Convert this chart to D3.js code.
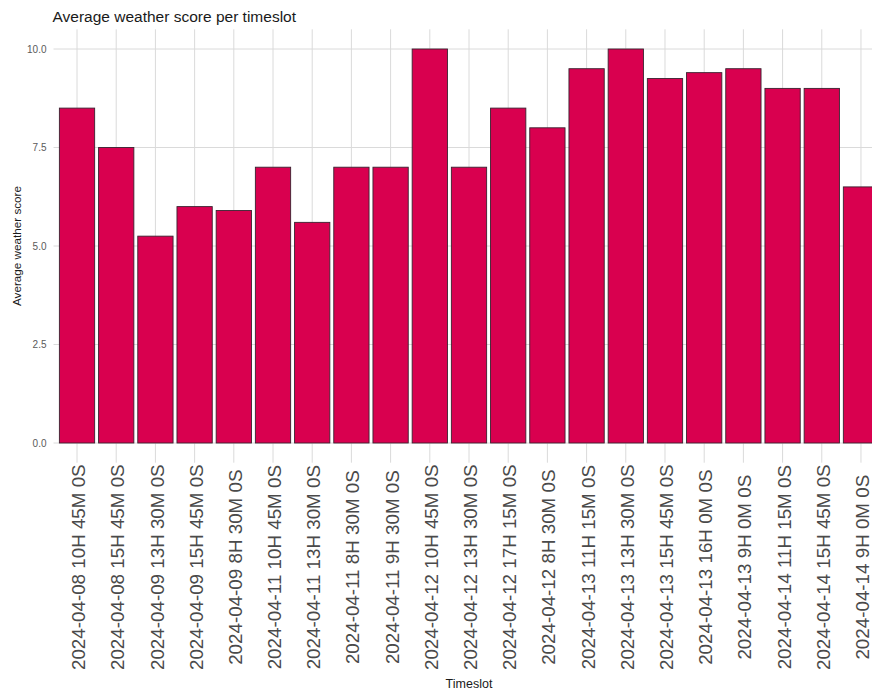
<!DOCTYPE html>
<html>
<head>
<meta charset="utf-8">
<script src="https://cdn.jsdelivr.net/npm/d3@7"></script>
<style>
  html, body { margin: 0; padding: 0; background: #ffffff; }
  svg { display: block; font-family: "Liberation Sans", Arial, sans-serif; }
</style>
</head>
<body>
<svg id="chart" width="872" height="690"></svg>
<script>
// Timeslots (category axis) and the average score for each
const timeslots = [
  "2024-04-08 10H 45M 0S",
  "2024-04-08 15H 45M 0S",
  "2024-04-09 13H 30M 0S",
  "2024-04-09 15H 45M 0S",
  "2024-04-09 8H 30M 0S",
  "2024-04-11 10H 45M 0S",
  "2024-04-11 13H 30M 0S",
  "2024-04-11 8H 30M 0S",
  "2024-04-11 9H 30M 0S",
  "2024-04-12 10H 45M 0S",
  "2024-04-12 13H 30M 0S",
  "2024-04-12 17H 15M 0S",
  "2024-04-12 8H 30M 0S",
  "2024-04-13 11H 15M 0S",
  "2024-04-13 13H 30M 0S",
  "2024-04-13 15H 45M 0S",
  "2024-04-13 16H 0M 0S",
  "2024-04-13 9H 0M 0S",
  "2024-04-14 11H 15M 0S",
  "2024-04-14 15H 45M 0S",
  "2024-04-14 9H 0M 0S"
];
const scores = [8.5, 7.5, 5.25, 6.0, 5.9, 7.0, 5.6, 7.0, 7.0, 10.0, 7.0, 8.5, 8.0, 9.5, 10.0, 9.25, 9.4, 9.5, 9.0, 9.0, 6.5];
const yTicks = [0, 2.5, 5, 7.5, 10];

const titleText = "Average weather score per timeslot";
const xTitle = "Timeslot";
const yTitle = "Average weather score";

const svg = d3.select("#chart");

// Panel geometry (the panel runs past the right edge of the window)
const panel = { left: 53.5, right: 884.5, top: 29.3, bottom: 462.7 };

// Discrete axis: 0.6 step of expansion on each side, bars 0.9 of a step wide
const n = timeslots.length;
const step = (panel.right - panel.left) / (n + 0.2);
const x = d3.scaleBand()
  .domain(timeslots)
  .range([panel.left + 0.6 * step - 0.5 * step, panel.left + 0.6 * step - 0.5 * step + n * step])
  .paddingInner(0.1)
  .paddingOuter(0.05);

const y = d3.scaleLinear()
  .domain([-0.5, 10.5])
  .range([panel.bottom, panel.top]);

const grid = svg.append("g").attr("class", "grid");

// Horizontal major grid lines
grid.selectAll("line.h")
  .data(yTicks)
  .join("line")
  .attr("class", "h")
  .attr("x1", panel.left).attr("x2", panel.right)
  .attr("y1", d => y(d)).attr("y2", d => y(d))
  .attr("stroke", "#dadada").attr("stroke-width", 1);

// Vertical grid lines at category centres
grid.selectAll("line.v")
  .data(timeslots)
  .join("line")
  .attr("class", "v")
  .attr("x1", d => x(d) + x.bandwidth() / 2).attr("x2", d => x(d) + x.bandwidth() / 2)
  .attr("y1", panel.top).attr("y2", panel.bottom)
  .attr("stroke", "#dadada").attr("stroke-width", 1);

// Bars
svg.append("g").selectAll("rect")
  .data(timeslots.map((t, i) => ({ t, v: scores[i] })))
  .join("rect")
  .attr("x", d => x(d.t))
  .attr("width", x.bandwidth())
  .attr("y", d => y(d.v))
  .attr("height", d => y(0) - y(d.v))
  .attr("fill", "#d9004f")
  .attr("stroke", "#3a2230")
  .attr("stroke-width", 0.9);

// Y axis tick labels
const yAxis = d3.axisLeft(y).tickValues(yTicks).tickFormat(d3.format(".1f")).tickSize(0).tickPadding(7);
const yg = svg.append("g").attr("transform", `translate(${panel.left},0)`).call(yAxis);
yg.select(".domain").remove();
yg.selectAll("text")
  .attr("font-size", 10)
  .attr("fill", "#5a5a5a")
  .attr("font-family", "Liberation Sans, Arial, sans-serif");

// X axis tick labels, rotated and centred under each bar
const xAxis = d3.axisBottom(x).tickSize(0);
const xg = svg.append("g").attr("transform", `translate(0,${panel.bottom})`).call(xAxis);
xg.select(".domain").remove();
xg.selectAll("text")
  .attr("font-size", 18.8)
  .attr("fill", "#4a4a4a")
  .attr("font-family", "Liberation Sans, Arial, sans-serif")
  .attr("text-anchor", "middle")
  .attr("transform", "translate(1.5,104.5) rotate(-90)")
  .attr("x", 0).attr("y", 0).attr("dy", "0.35em");

// Title
svg.append("text")
  .attr("x", panel.left - 1).attr("y", 21.5)
  .attr("font-size", 15.5)
  .attr("fill", "#1a1a1a")
  .text(titleText);

// Axis titles
svg.append("text")
  .attr("x", (panel.left + panel.right) / 2).attr("y", 688)
  .attr("text-anchor", "middle")
  .attr("font-size", 12.5)
  .attr("fill", "#1a1a1a")
  .text(xTitle);

svg.append("text")
  .attr("transform", `translate(20.5,${(panel.top + panel.bottom) / 2}) rotate(-90)`)
  .attr("text-anchor", "middle")
  .attr("font-size", 11.7)
  .attr("fill", "#1a1a1a")
  .text(yTitle);
</script>
</body>
</html>
